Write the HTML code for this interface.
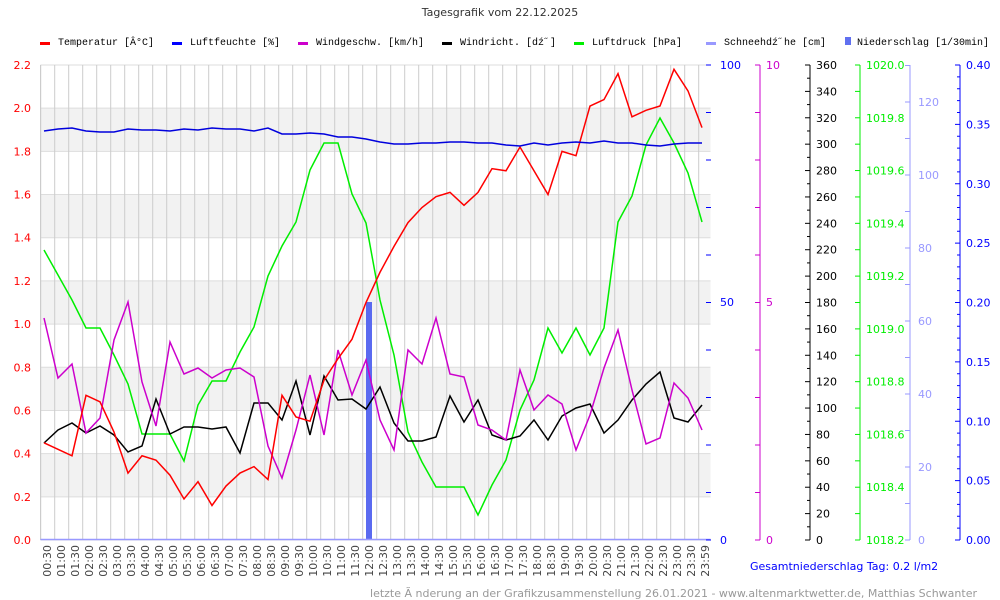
<!DOCTYPE html>
<html><head><meta charset="utf-8"><style>
body{margin:0;background:#fff;width:1000px;height:600px;overflow:hidden}
svg{display:block}
text{font-family:"DejaVu Sans","Liberation Sans",sans-serif;font-size:11px}
.lg{font-family:"Liberation Mono",monospace;font-size:10px;fill:#000}
</style></head><body>
<svg id="s" width="1000" height="600" xmlns="http://www.w3.org/2000/svg">
<rect width="1000" height="600" fill="#fff"/>
<text x="500" y="16" text-anchor="middle" font-size="12" fill="#333">Tagesgrafik vom 22.12.2025</text>
<g id="g"></g>
<g id="leg"></g>
<text x="750" y="570" fill="#00f" font-size="10.5">Gesamtniederschlag Tag: 0.2 l/m2</text>
<text x="977" y="597" text-anchor="end" fill="#999" font-size="10.5">letzte Ã nderung an der Grafikzusammenstellung 26.01.2021 - www.altenmarktwetter.de, Matthias Schwanter</text>
</svg>
<script>
var g=document.getElementById('g'),h='';
function L(x1,y1,x2,y2,c,w){h+='<line x1="'+x1+'" y1="'+y1+'" x2="'+x2+'" y2="'+y2+'" stroke="'+c+'" stroke-width="'+(w||1)+'"/>';}
function T(x,y,t,c,a,ex){h+='<text x="'+x+'" y="'+y+'" fill="'+c+'" text-anchor="'+(a||'start')+'" '+(ex||'')+'>'+t+'</text>';}
var X0=40.5,X1=710.5,Y0=65,Y1=540,k=(Y1-Y0)/2.2;
for(var b=0;b<5;b++){var v=0.2+0.4*b;var ya=Y1-(v+0.2)*k,yb=Y1-v*k;h+='<rect x="'+X0+'" y="'+ya+'" width="'+(X1-X0)+'" height="'+(yb-ya)+'" fill="#f2f2f2"/>';}
for(var i=0;i<=11;i++){var y=Y1-i*0.2*k;L(X0,y,X1,y,'#ddd');T(31,y+4,(i*0.2).toFixed(1),'#f00','end');}
for(var x=40.7;x<=711;x+=14)L(x,Y0,x,Y1,'#ccc');
L(X0,Y0,X0,Y1,'#ccc');
var tl=[];for(var m=30;m<=1440;m+=30){var hh=Math.floor(m/60),mm=m%60;if(m==1440)tl.push('23:59');else tl.push((hh<10?'0':'')+hh+':'+(mm?'30':'00'));}
tl.forEach(function(t,i){var x=47+14*i+4;T(x,545,t,'#444','end','transform="rotate(-90 '+x+' 545)"');});
var px=function(i){return 44+14*i;};
function P(a,c,w){h+='<polyline fill="none" stroke="'+c+'" stroke-width="'+(w||1.5)+'" points="'+a.map(function(y,i){return px(i)+','+y}).join(' ')+'"/>';}
h+='<rect x="366" y="302" width="6" height="238" fill="#5a6af0"/>';
L(X0,539.5,X1,539.5,'#9999ff',1.5);
var temp=[0.45,0.42,0.39,0.67,0.64,0.50,0.31,0.39,0.37,0.30,0.19,0.27,0.16,0.25,0.31,0.34,0.28,0.67,0.57,0.55,0.74,0.84,0.93,1.10,1.24,1.36,1.47,1.54,1.59,1.61,1.55,1.61,1.72,1.71,1.82,1.71,1.60,1.80,1.78,2.01,2.04,2.16,1.96,1.99,2.01,2.18,2.08,1.91];
var ws=[318,378,364,433,418,340,302,382,426,342,374,368,378,370,368,377,446,478,430,375,435,350,395,360,420,450,350,364,318,374,377,425,430,440,370,410,395,404,450,415,368,330,390,444,438,383,398,430];
var wd=[443,430,423,433,426,435,452,446,399,434,427,427,429,427,453,403,403,420,381,435,376,400,399,409,387,423,441,441,437,396,422,400,435,440,436,420,440,416,408,404,433,420,400,384,372,418,422,405];
var pr=[250,275,300,328,328,355,384,434,434,434,461,405,381,381,352,327,276,246,222,170,143,143,194,223,300,355,432,462,487,487,487,515,485,460,410,380,328,353,328,355,328,222,196,145,118,143,173,222];
var hu=[131,129,128,131,132,132,129,130,130,131,129,130,128,129,129,131,128,134,134,133,134,137,137,139,142,144,144,143,143,142,142,143,143,145,146,143,145,143,142,143,141,143,143,145,146,144,143,143];
P(pr,'#00ee00');P(wd,'#000');P(ws,'#cc00cc');P(temp.map(function(v){return Y1-v*k}),'#f00');P(hu,'#0000dd');
for(var j=0;j<=10;j++){var y=Y0+(Y1-Y0)*j/10;L(706,y,711,y,'#00f');}
T(720,69,'100','#00f');T(720,306,'50','#00f');T(720,544,'0','#00f');
L(760,Y0,760,Y1,'#c0c');for(var j=0;j<=10;j++){var y=Y0+(Y1-Y0)*j/10;L(755,y,760,y,'#c0c');}
T(766,69,'10','#c0c');T(766,306,'5','#c0c');T(766,544,'0','#c0c');
L(810,Y0,810,Y1,'#000');for(var j=0;j<=36;j++){var y=Y0+(Y1-Y0)*j/36;L(j%2?807:805,y,810,y,'#000');if(j%2==0)T(816,y+4,360-j*10,'#000');}
L(860,Y0,860,Y1,'#0e0');for(var j=0;j<=18;j++){var y=Y0+(Y1-Y0)*j/18;L(855,y,860,y,'#0e0');if(j%2==0)T(866,y+4,(1020-j*0.1).toFixed(1),'#0e0');}
L(910,Y0,910,Y1,'#99f');var ss=(540-102)/120;for(var j=0;j<=13;j++){var y=540-j*10*ss;if(y<Y0)break;L(905,y,910,y,'#99f');if(j%2==0)T(918,y+4,j*10,'#99f');}
L(960,Y0,960,Y1,'#00f');for(var j=0;j<=40;j++){var y=Y1-(Y1-Y0)*j/40;L(j%5?957:955,y,960,y,'#00f');if(j%5==0)T(966,y+4,(j/100).toFixed(2),'#00f');}
g.innerHTML=h;
var lg=[['Temperatur [Â°C]','#f00',40],['Luftfeuchte [%]','#00f',172],['Windgeschw. [km/h]','#c0c',298],['Windricht. [dź˝]','#000',442],['Luftdruck [hPa]','#0e0',574],['Schneehdź˝he [cm]','#99f',706],['Niederschlag [1/30min]','#6070f0',845]],s='';
lg.forEach(function(l,i){if(i==6)s+='<rect x="'+(l[2])+'" y="37" width="6" height="8" fill="'+l[1]+'"/>';else s+='<rect x="'+l[2]+'" y="42" width="10" height="3" fill="'+l[1]+'"/>';s+='<text class="lg" x="'+(l[2]+(i==6?12:18))+'" y="45">'+l[0]+'</text>';});
document.getElementById('leg').innerHTML=s;
</script>
</body></html>
